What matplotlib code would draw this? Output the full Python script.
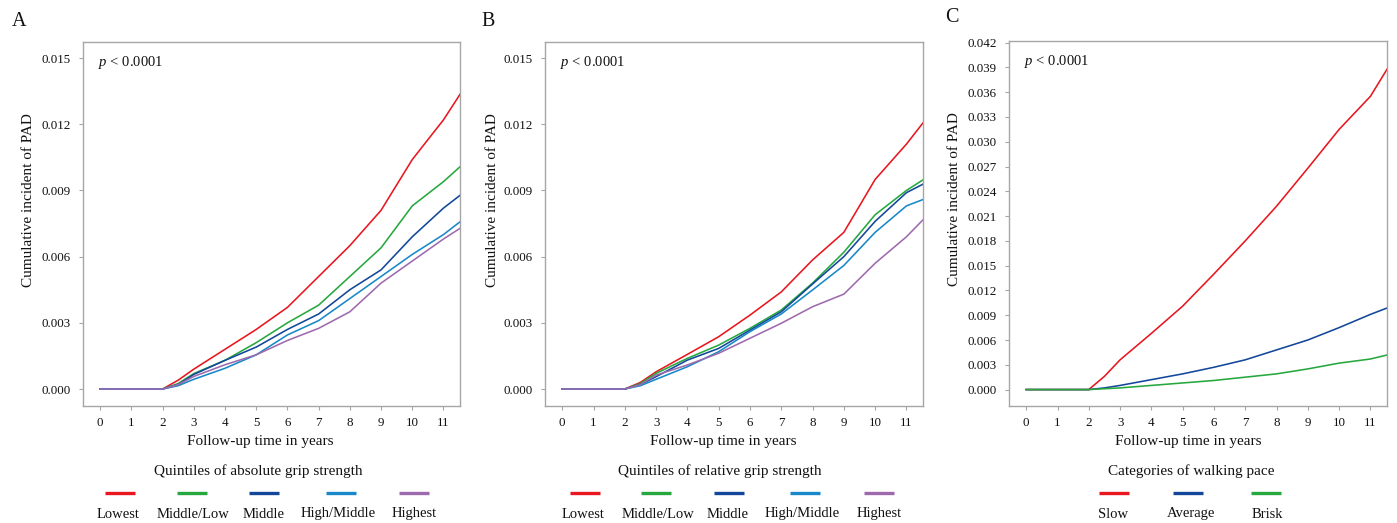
import matplotlib
matplotlib.use("Agg")
import matplotlib.pyplot as plt
from matplotlib.lines import Line2D
import matplotlib.ticker as mticker

plt.rcParams['font.family'] = ['Liberation Serif', 'DejaVu Serif']
plt.rcParams['mathtext.fontset'] = 'custom'
plt.rcParams['mathtext.rm'] = 'Liberation Serif'
plt.rcParams['mathtext.it'] = 'Liberation Serif:italic'

# ---------------- data ----------------
years = [0, 2, 2.5, 3, 4, 5, 6, 7, 8, 9, 10, 11, 11.55]

# Panel A: quintiles of absolute grip strength
abs_labels = ["Lowest", "Middle/Low", "Middle", "High/Middle", "Highest"]
abs_lowest = [0, 0, 0.0004, 0.0009, 0.0018, 0.0027, 0.0037, 0.0051, 0.0065, 0.0081, 0.0104, 0.0122, 0.0134]
abs_midlow = [0, 0, 0.00025, 0.0007, 0.0013, 0.0021, 0.0030, 0.0038, 0.0051, 0.0064, 0.0083, 0.0094, 0.0101]
abs_middle = [0, 0, 0.0002, 0.00066, 0.0013, 0.0019, 0.0027, 0.0034, 0.0045, 0.0054, 0.0069, 0.0082, 0.0088]
abs_highmid = [0, 0, 0.00015, 0.00044, 0.00094, 0.00155, 0.00245, 0.0031, 0.0041, 0.0051, 0.0061, 0.0070, 0.0076]
abs_highest = [0, 0, 0.0002, 0.00057, 0.0011, 0.00155, 0.0022, 0.00275, 0.0035, 0.0048, 0.0058, 0.0068, 0.0073]

# Panel B: quintiles of relative grip strength
rel_labels = ["Lowest", "Middle/Low", "Middle", "High/Middle", "Highest"]
rel_lowest = [0, 0, 0.0003, 0.00078, 0.00157, 0.00237, 0.00335, 0.0044, 0.00585, 0.0071, 0.0095, 0.0111, 0.0121]
rel_midlow = [0, 0, 0.00025, 0.00071, 0.00139, 0.00199, 0.00275, 0.00358, 0.0048, 0.0062, 0.0079, 0.0090, 0.0095]
rel_middle = [0, 0, 0.0002, 0.00056, 0.00131, 0.00184, 0.00267, 0.0035, 0.00476, 0.0060, 0.0076, 0.0089, 0.0093]
rel_highmid = [0, 0, 0.00015, 0.00044, 0.00101, 0.00169, 0.0026, 0.0034, 0.00449, 0.0056, 0.0071, 0.0083, 0.0086]
rel_highest = [0, 0, 0.0002, 0.00063, 0.00109, 0.00162, 0.0023, 0.00298, 0.00373, 0.0043, 0.0057, 0.0069, 0.0077]

# Panel C: categories of walking pace
walk_labels = ["Slow", "Average", "Brisk"]
walk_slow = [0, 0, 0.0016, 0.0036, 0.0068, 0.0101, 0.0140, 0.0180, 0.0222, 0.0268, 0.0315, 0.0355, 0.0389]
walk_average = [0, 0, 0.0002, 0.0005, 0.0012, 0.0019, 0.0027, 0.0036, 0.0048, 0.0060, 0.0075, 0.0091, 0.0099]
walk_brisk = [0, 0, 0.0001, 0.0002, 0.0005, 0.0008, 0.0011, 0.0015, 0.0019, 0.0025, 0.0032, 0.0037, 0.0042]

x_ticks = list(range(0, 12))
yticks_ab = [0.000, 0.003, 0.006, 0.009, 0.012, 0.015]
yticks_c = [0.000, 0.003, 0.006, 0.009, 0.012, 0.015, 0.018, 0.021, 0.024,
            0.027, 0.030, 0.033, 0.036, 0.039, 0.042]

RED = "#e8161e"
GREEN = "#26a83e"
DBLUE = "#12479a"
LBLUE = "#1888c8"
PURPLE = "#9e6aae"
GRAY = "#a6a6a6"
TXT = "#111111"

W, H = 1397, 523
fig = plt.figure(figsize=(W / 100, H / 100), dpi=100)


def fx(px):
    return px / W


def fy(py):
    return 1 - py / H


def make_axes(left, right, top, bottom):
    return fig.add_axes([fx(left), fy(bottom), fx(right) - fx(left), fy(top) - fy(bottom)])


panels = [
    dict(ax=make_axes(83, 460, 42, 406), letter="A", letter_xy=(19, 22),
         series=[abs_lowest, abs_midlow, abs_middle, abs_highmid, abs_highest],
         labels=abs_labels, colors=[RED, GREEN, DBLUE, LBLUE, PURPLE],
         yticks=yticks_ab, ylim=(-0.00077, 0.01573),
         title="Quintiles of absolute grip strength", title_x=258, xlabel_x=260,
         ylabel_x=29, handle_x=[120, 192, 264, 341, 414], label_x=[118, 193, 264, 338, 414]),
    dict(ax=make_axes(545, 923, 42, 406), letter="B", letter_xy=(488, 21),
         series=[rel_lowest, rel_midlow, rel_middle, rel_highmid, rel_highest],
         labels=rel_labels, colors=[RED, GREEN, DBLUE, LBLUE, PURPLE],
         yticks=yticks_ab, ylim=(-0.00077, 0.01573),
         title="Quintiles of relative grip strength", title_x=720, xlabel_x=723,
         ylabel_x=492, handle_x=[585, 656, 729, 805, 879], label_x=[583, 658, 728, 802, 879]),
    dict(ax=make_axes(1009, 1387, 41, 406), letter="C", letter_xy=(952, 17),
         series=[walk_slow, walk_average, walk_brisk],
         labels=walk_labels, colors=[RED, DBLUE, GREEN],
         yticks=yticks_c, ylim=(-0.00199, 0.0422),
         title="Categories of walking pace", title_x=1191, xlabel_x=1188,
         ylabel_x=955, handle_x=[1114, 1188, 1266], label_x=[1113, 1191, 1267]),
]

for p in panels:
    ax = p["ax"]
    for vals, col, lab in zip(p["series"], p["colors"], p["labels"]):
        ax.plot(years, vals, color=col, lw=1.15, label=lab, solid_joinstyle="round")
    ax.set_xlim(-0.55, 11.53)
    ax.set_ylim(*p["ylim"])
    ax.set_xticks(x_ticks)
    ax.set_yticks(p["yticks"])
    ax.yaxis.set_major_formatter(mticker.FormatStrFormatter("%.3f"))
    for s in ax.spines.values():
        s.set_color(GRAY)
        s.set_linewidth(1.0)
    ax.tick_params(axis="both", direction="out", length=3, width=0.8, color=GRAY,
                   labelsize=9.4, labelcolor=TXT)
    ax.tick_params(axis="y", pad=6)
    ax.tick_params(axis="x", pad=5)
    ax.text(0.04, 0.945, r"$p$ < 0.0001", transform=ax.transAxes, fontsize=10.5,
            color=TXT, ha="left", va="center")

    # axis labels
    ax.set_xlabel("Follow-up time in years", fontsize=11, color=TXT)
    left_px = ax.get_position().x0 * W
    width_px = ax.get_position().width * W
    ax.xaxis.set_label_coords((p["xlabel_x"] - left_px) / width_px, (406 - 441) / 364)
    ax.xaxis.label.set_va("center")
    ax.set_ylabel("Cumulative incident of PAD", fontsize=11, color=TXT)
    ax.yaxis.set_label_coords((p["ylabel_x"] - left_px) / width_px, (406 - 200) / 364)
    ax.yaxis.label.set_va("center")

    # panel letter
    fig.text(fx(p["letter_xy"][0]), fy(p["letter_xy"][1]), p["letter"], fontsize=14.5,
             color=TXT, ha="center", va="center")

    # legend (title, handles above labels)
    fig.text(fx(p["title_x"]), fy(471), p["title"], fontsize=11, color=TXT,
             ha="center", va="center")
    for hx, lx, col, lab in zip(p["handle_x"], p["label_x"], p["colors"], p["labels"]):
        fig.add_artist(Line2D([fx(hx - 15), fx(hx + 15)], [fy(493), fy(493)],
                              transform=fig.transFigure, color=col, lw=2.4,
                              solid_capstyle="butt"))
        fig.text(fx(lx), fy(514), lab, fontsize=10.5, color=TXT, ha="center", va="center")

fig.savefig("out.png", dpi=100, facecolor="white")
